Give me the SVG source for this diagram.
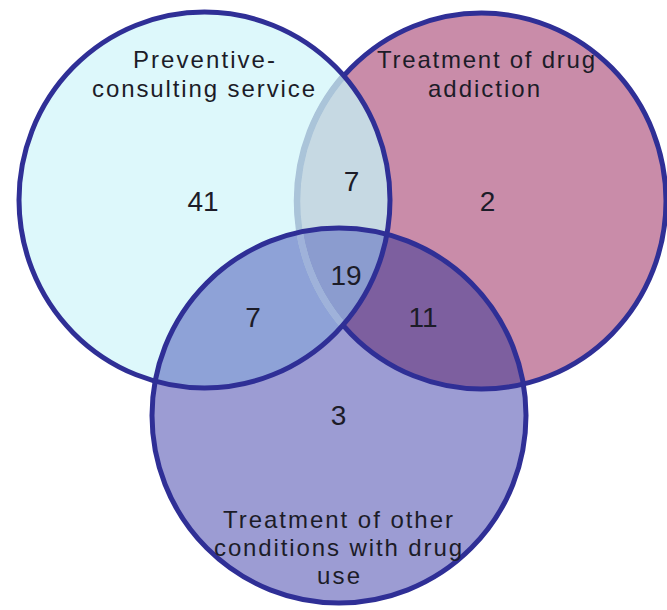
<svg xmlns="http://www.w3.org/2000/svg" width="667" height="610" viewBox="0 0 667 610">
  <style>
    .outline { fill: none; stroke: #2f2f96; stroke-width: 5; }
    .pale { fill: none; stroke-width: 6.5; }
    .label { font-family: "Liberation Sans", Arial, sans-serif; font-size: 24px; fill: #1c1c28; text-anchor: middle; }
    .count { font-family: "Liberation Sans", Arial, sans-serif; font-size: 28px; fill: #1c1c28; text-anchor: middle; }
  </style>
  <defs>
    <ellipse id="shapeA" cx="204.5" cy="200" rx="185.5" ry="188"/>
    <ellipse id="shapeB" cx="481.5" cy="201" rx="184.5" ry="188"/>
    <ellipse id="shapeC" cx="339" cy="415.5" rx="187" ry="187.5"/>
    <clipPath id="clipA"><use href="#shapeA"/></clipPath>
    <clipPath id="clipB"><use href="#shapeB"/></clipPath>
    <clipPath id="clipC"><use href="#shapeC"/></clipPath>
  </defs>
  <rect width="667" height="610" fill="#ffffff"/>
  <g id="regions">
    <use href="#shapeB" fill="#c98ca9"/>
    <use href="#shapeA" fill="#ddf8fb"/>
    <use href="#shapeB" fill="#c6d9e3" clip-path="url(#clipA)"/>
    <use href="#shapeC" fill="#9c9cd3"/>
    <use href="#shapeC" fill="#8ea2d7" clip-path="url(#clipA)"/>
    <use href="#shapeC" fill="#7d5f9f" clip-path="url(#clipB)"/>
    <g clip-path="url(#clipA)">
      <use href="#shapeC" fill="#8b9ccf" clip-path="url(#clipB)"/>
    </g>
  </g>
  <g id="node-treatment-drug-addiction">
    <use href="#shapeB" class="outline"/>
    <g clip-path="url(#clipA)">
      <use href="#shapeB" class="pale" stroke="#aac4d9"/>
      <g clip-path="url(#clipC)">
        <use href="#shapeB" class="pale" stroke="#9fb2da"/>
      </g>
    </g>
    <text class="label" x="486" y="68" textLength="218" lengthAdjust="spacing">Treatment of drug</text>
    <text class="label" x="484" y="97" textLength="112" lengthAdjust="spacing">addiction</text>
  </g>
  <g id="node-preventive-consulting">
    <use href="#shapeA" class="outline"/>
    <text class="label" x="204" y="68" textLength="142" lengthAdjust="spacing">Preventive-</text>
    <text class="label" x="203.5" y="97" textLength="223" lengthAdjust="spacing">consulting service</text>
  </g>
  <g id="node-treatment-other-conditions">
    <use href="#shapeC" class="outline"/>
    <text class="label" x="338" y="528" textLength="230" lengthAdjust="spacing">Treatment of other</text>
    <text class="label" x="338" y="556" textLength="248" lengthAdjust="spacing">conditions with drug</text>
    <text class="label" x="338.5" y="584" textLength="43" lengthAdjust="spacing">use</text>
  </g>
  <g id="connectors"/>
  <g id="counts">
    <text class="count" x="203" y="211">41</text>
    <text class="count" x="351.5" y="191">7</text>
    <text class="count" x="487.5" y="211">2</text>
    <text class="count" x="346" y="285">19</text>
    <text class="count" x="253" y="327">7</text>
    <text class="count" x="423" y="327">11</text>
    <text class="count" x="338.5" y="425">3</text>
  </g>
</svg>
